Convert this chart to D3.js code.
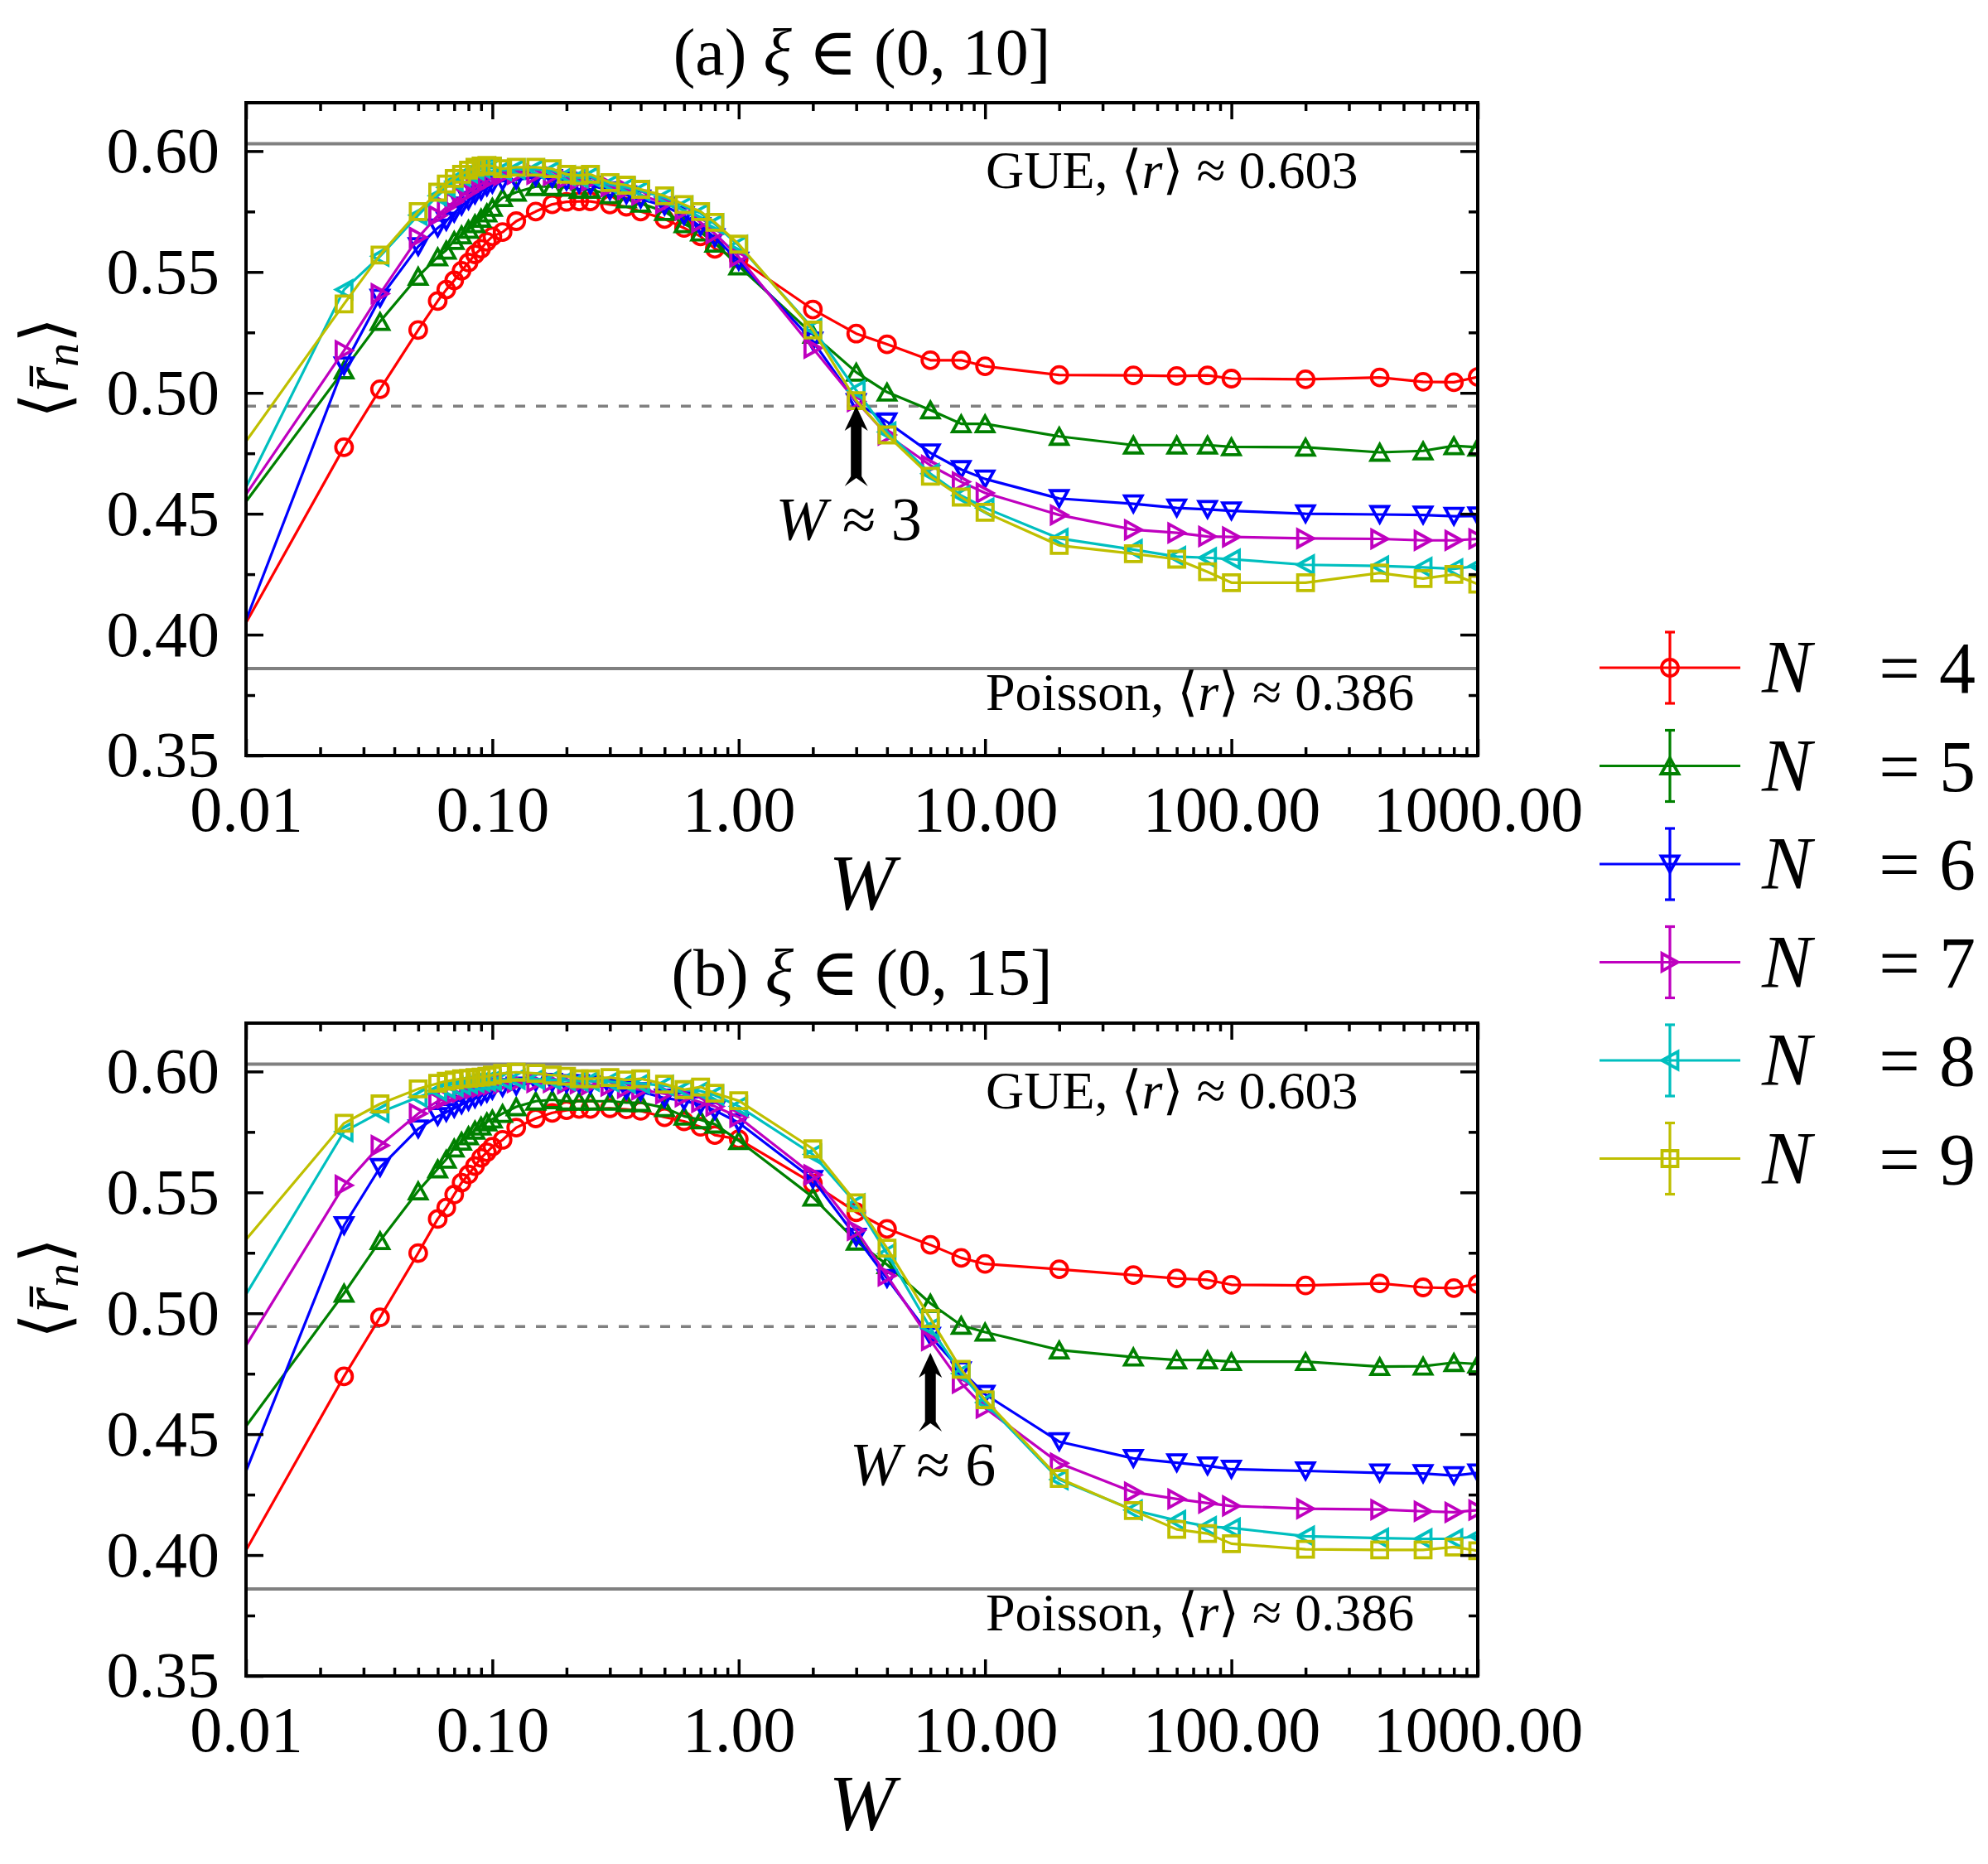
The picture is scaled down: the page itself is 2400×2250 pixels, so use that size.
<!DOCTYPE html>
<html>
<head>
<meta charset="utf-8">
<script src="https://cdn.jsdelivr.net/npm/d3@7"></script>
<style>
  body { margin: 0; background: #fff; }
  text { font-family: "Liberation Serif", "DejaVu Serif", serif; fill: #000; }
</style>
</head>
<body>
<div id="chart"></div>
<script>
// disorder strengths W (first point lies left of the axis, only its line segment shows)
const W_VALUES = [0.005, 0.025, 0.035, 0.05, 0.06, 0.065, 0.07, 0.075, 0.08, 0.085, 0.09, 0.095,
  0.1, 0.11, 0.125, 0.15, 0.175, 0.2, 0.225, 0.25, 0.3, 0.35, 0.4, 0.5, 0.6, 0.7, 0.8,
  1, 2, 3, 4, 6, 8, 10, 20, 40, 60, 80, 100, 200, 400, 600, 800, 1000];

const N_VALUES = [4, 5, 6, 7, 8, 9];

// panel (a): xi in (0,10]
const rA_N4 = [0.350, 0.4775, 0.5015, 0.526, 0.538, 0.5427, 0.5465, 0.5505, 0.5539, 0.5573, 0.5596, 0.5625,
  0.5647, 0.5665, 0.571, 0.575, 0.578, 0.579, 0.5792, 0.5792, 0.5779, 0.577, 0.575, 0.5719, 0.5682, 0.5647, 0.5596,
  0.5555, 0.5345, 0.5245, 0.5201, 0.5135, 0.5135, 0.511, 0.5074, 0.5072, 0.507, 0.5072, 0.5059, 0.5056, 0.5064, 0.5046, 0.5044, 0.5066];
const rA_N5 = [0.4138, 0.5095, 0.5295, 0.5482, 0.5562, 0.559, 0.563, 0.5653, 0.5676, 0.5699, 0.5722, 0.5744,
  0.5767, 0.5807, 0.583, 0.5853, 0.5853, 0.585, 0.5842, 0.5842, 0.5819, 0.5802, 0.5784, 0.575, 0.5699, 0.5665, 0.5619,
  0.5525, 0.5242, 0.5085, 0.5003, 0.4929, 0.4872, 0.4872, 0.482, 0.4784, 0.4784, 0.4784, 0.4777, 0.4775, 0.4754, 0.476, 0.4781, 0.4775];
const rA_N6 = [0.3264, 0.5112, 0.5392, 0.5605, 0.5682, 0.571, 0.5744, 0.5773, 0.5796, 0.5819, 0.5836, 0.5853,
  0.5864, 0.5876, 0.5881, 0.5893, 0.5887, 0.5876, 0.5864, 0.5859, 0.5836, 0.5819, 0.5802, 0.5773, 0.5733, 0.5688, 0.5642,
  0.5545, 0.5214, 0.496, 0.488, 0.4752, 0.4683, 0.4644, 0.4563, 0.4541, 0.4524, 0.4518, 0.4512, 0.450, 0.4497, 0.4495, 0.449, 0.4491];
const rA_N7 = [0.413, 0.5175, 0.541, 0.5643, 0.5733, 0.5767, 0.579, 0.5813, 0.583, 0.5847, 0.5864, 0.5876,
  0.5887, 0.5899, 0.5904, 0.5904, 0.5899, 0.5887, 0.5881, 0.5876, 0.5853, 0.5842, 0.5819, 0.5784, 0.5756, 0.5705, 0.5659,
  0.5562, 0.5185, 0.4965, 0.4826, 0.470, 0.4632, 0.4586, 0.4495, 0.4434, 0.4421, 0.4406, 0.4404, 0.4398, 0.4396, 0.439, 0.439, 0.4396];
const rA_N8 = [0.3992, 0.5427, 0.5565, 0.5735, 0.5815, 0.585, 0.5875, 0.5895, 0.591, 0.5922, 0.593, 0.5933,
  0.593, 0.592, 0.5925, 0.5925, 0.592, 0.5898, 0.589, 0.5895, 0.5862, 0.585, 0.5836, 0.5808, 0.5772, 0.5743, 0.5698,
  0.561, 0.5266, 0.501, 0.4838, 0.4666, 0.4575, 0.4524, 0.4398, 0.4352, 0.4323, 0.4318, 0.4312, 0.4289, 0.4284, 0.4278, 0.4272, 0.4284];
const rA_N9 = [0.4369, 0.5368, 0.557, 0.575, 0.583, 0.5864, 0.5887, 0.5904, 0.5921, 0.5933, 0.5938, 0.5941,
  0.5938, 0.5927, 0.5933, 0.5933, 0.5927, 0.5904, 0.5899, 0.5904, 0.587, 0.5859, 0.5842, 0.5815, 0.5779, 0.575, 0.5705,
  0.5615, 0.526, 0.4968, 0.4826, 0.4655, 0.4569, 0.4506, 0.4369, 0.4335, 0.4312, 0.426, 0.4215, 0.4215, 0.4255, 0.4232, 0.4249, 0.4209];

// panel (b): xi in (0,15]
const rB_N4 = [0.3476, 0.4739, 0.4983, 0.5249, 0.539, 0.5437, 0.5491, 0.554, 0.5574, 0.5609, 0.5643, 0.5666,
  0.5689, 0.5717, 0.5768, 0.5806, 0.5829, 0.584, 0.5845, 0.5845, 0.5848, 0.5843, 0.5837, 0.5811, 0.5794, 0.5771, 0.5737,
  0.572, 0.5537, 0.5418, 0.5349, 0.5283, 0.5229, 0.5204, 0.5182, 0.5158, 0.5144, 0.5138, 0.5118, 0.5115, 0.5124, 0.5107, 0.5104, 0.5121];
const rB_N5 = [0.4117, 0.5083, 0.530, 0.5506, 0.5597, 0.5637, 0.5683, 0.5711, 0.5734, 0.5757, 0.5774, 0.5791,
  0.5803, 0.5826, 0.5854, 0.5877, 0.5883, 0.5877, 0.5877, 0.5877, 0.5877, 0.5871, 0.5871, 0.585, 0.5815, 0.580, 0.5782,
  0.5714, 0.548, 0.5298, 0.5201, 0.5041, 0.495, 0.4922, 0.4848, 0.4819, 0.4807, 0.4807, 0.480, 0.480, 0.4779, 0.4781, 0.4796, 0.479];
const rB_N6 = [0.3578, 0.5363, 0.5603, 0.5763, 0.5814, 0.5831, 0.5848, 0.5863, 0.5877, 0.5888, 0.590, 0.5911,
  0.5923, 0.5934, 0.594, 0.5957, 0.5955, 0.595, 0.595, 0.5945, 0.5934, 0.5923, 0.5917, 0.589, 0.5879, 0.5862, 0.5839,
  0.5788, 0.5554, 0.5315, 0.5144, 0.4905, 0.4762, 0.4665, 0.4469, 0.440, 0.4382, 0.4369, 0.4355, 0.4348, 0.434, 0.4337, 0.4329, 0.434];
const rB_N7 = [0.4366, 0.5529, 0.5694, 0.5826, 0.5877, 0.589, 0.5905, 0.5915, 0.5925, 0.593, 0.5935, 0.594,
  0.5945, 0.595, 0.5955, 0.5955, 0.5955, 0.595, 0.595, 0.5945, 0.594, 0.5932, 0.5925, 0.5908, 0.5896, 0.5873, 0.5856,
  0.5811, 0.5572, 0.5343, 0.5155, 0.4888, 0.4711, 0.4608, 0.438, 0.426, 0.4232, 0.4215, 0.4203, 0.4192, 0.4188, 0.4181, 0.4177, 0.4186];
const rB_N8 = [0.4569, 0.5751, 0.5831, 0.5894, 0.592, 0.593, 0.5938, 0.5945, 0.595, 0.5955, 0.5958, 0.596,
  0.5963, 0.5966, 0.5968, 0.5968, 0.5966, 0.5963, 0.596, 0.596, 0.5958, 0.5952, 0.595, 0.5942, 0.5925, 0.5919, 0.5902,
  0.5856, 0.5657, 0.5452, 0.5247, 0.4939, 0.4751, 0.4631, 0.4312, 0.4186, 0.4143, 0.4118, 0.4112, 0.4078, 0.407, 0.4067, 0.4067, 0.4078];
const rB_N9 = [0.4941, 0.5786, 0.5866, 0.5928, 0.5951, 0.596, 0.5965, 0.597, 0.5972, 0.5975, 0.5977, 0.598,
  0.5985, 0.5992, 0.5997, 0.5992, 0.5985, 0.598, 0.597, 0.597, 0.5975, 0.5965, 0.597, 0.5948, 0.5925, 0.5936, 0.591,
  0.5879, 0.568, 0.5457, 0.5269, 0.4978, 0.4768, 0.4642, 0.4317, 0.4184, 0.4106, 0.4089, 0.4047, 0.4024, 0.4021, 0.4021, 0.4033, 0.4018];

const X_TICKS = [0.01, 0.1, 1, 10, 100, 1000];
const Y_TICKS = [0.35, 0.40, 0.45, 0.50, 0.55, 0.60];
const Y_MINOR = [0.375, 0.425, 0.475, 0.525, 0.575];
const GUE_R = 0.603, POISSON_R = 0.386;

const PANEL_LABELS = ["(a)", "(b)"];
const XI_MAX = [10, 15];
const ARROW_W = [3, 6];
const ARROW_TIP = [0.4946, 0.4836];
const ARROW_TAIL = [0.4614, 0.4511];

const COLORS = ["#ff0000", "#008000", "#0000ff", "#bf00bf", "#00bfbf", "#bfbf00"];
const MARKERS = [
  "M10,0A10,10 0 1,1 -10,0A10,10 0 1,1 10,0Z",        // circle
  "M0,-9.5L10.5,9.5L-10.5,9.5Z",                       // triangle up
  "M0,9.5L10.5,-9.5L-10.5,-9.5Z",                      // triangle down
  "M9.5,0L-9.5,-10.5L-9.5,10.5Z",                      // triangle right
  "M-9.5,0L9.5,-10.5L9.5,10.5Z",                       // triangle left
  "M-9.5,-9.5H9.5V9.5H-9.5Z"                           // square
];

const panels = [
  { series: [rA_N4, rA_N5, rA_N6, rA_N7, rA_N8, rA_N9] },
  { series: [rB_N4, rB_N5, rB_N6, rB_N7, rB_N8, rB_N9] }
];

const plotLeft = 297, plotW = 1487, plotH = 788;
const panelTop = [124, 1235];

const svg = d3.select("#chart").append("svg")
  .attr("width", 2400).attr("height", 2250);
svg.append("rect").attr("width", 2400).attr("height", 2250).attr("fill", "#fff");

const x = d3.scaleLog().domain([0.01, 1000]).range([0, plotW]);
const y = d3.scaleLinear().domain([0.35, 0.62]).range([plotH, 0]);
const fmt = d3.format(".2f");

const xMinor = [];
for (let e = -2; e < 3; e++) {
  for (let m = 2; m < 10; m++) xMinor.push(m * Math.pow(10, e));
}

const line = d3.line().x(d => x(d[0])).y(d => y(d[1]));

function styleAxis(sel, fontSize) {
  sel.select(".domain").remove();
  sel.selectAll("line").attr("stroke", "#000").attr("stroke-width", 3.5);
  sel.selectAll("text").attr("font-size", fontSize)
    .style("font-family", '"Liberation Serif", serif').attr("fill", "#000");
}

panels.forEach((p, i) => {
  const g = svg.append("g").attr("transform", `translate(${plotLeft},${panelTop[i]})`);

  g.append("clipPath").attr("id", "clip" + i)
    .append("rect").attr("width", plotW).attr("height", plotH);

  // reference lines
  const midR = (GUE_R + POISSON_R) / 2;
  [GUE_R, POISSON_R].forEach(v => {
    g.append("line").attr("x1", 0).attr("x2", plotW)
      .attr("y1", y(v)).attr("y2", y(v))
      .attr("stroke", "#808080").attr("stroke-width", 4);
  });
  g.append("line").attr("x1", 0).attr("x2", plotW)
    .attr("y1", y(midR)).attr("y2", y(midR))
    .attr("stroke", "#808080").attr("stroke-width", 3.5)
    .attr("stroke-dasharray", "12,13");

  // data
  const plot = g.append("g").attr("clip-path", `url(#clip${i})`);
  p.series.forEach((vals, k) => {
    const pts = W_VALUES.map((w, j) => [w, vals[j]]);
    const sg = plot.append("g");
    sg.append("path").datum(pts)
      .attr("d", line)
      .attr("fill", "none")
      .attr("stroke", COLORS[k])
      .attr("stroke-width", 3.2)
      .attr("stroke-linejoin", "round");
    sg.selectAll(".mk")
      .data(pts)
      .enter()
      .append("path")
      .attr("class", "mk")
      .attr("transform", d => `translate(${x(d[0])},${y(d[1])})`)
      .attr("d", MARKERS[k])
      .attr("fill", "none")
      .attr("stroke", COLORS[k])
      .attr("stroke-width", 3.8);
  });

  // GUE / Poisson labels
  const gueText = g.append("text").attr("x", 893).attr("y", 103).attr("font-size", 64);
  gueText.append("tspan").text("GUE, \u27E8");
  gueText.append("tspan").attr("font-style", "italic").text("r");
  gueText.append("tspan").text("\u27E9 \u2248 0.603");

  const poiText = g.append("text").attr("x", 893).attr("y", 733).attr("font-size", 64);
  poiText.append("tspan").text("Poisson, \u27E8");
  poiText.append("tspan").attr("font-style", "italic").text("r");
  poiText.append("tspan").text("\u27E9 \u2248 0.386");

  // arrow annotation
  const ax = x(ARROW_W[i]);
  const tipY = y(ARROW_TIP[i]), tailY = y(ARROW_TAIL[i]);
  const L = tailY - tipY;
  g.append("path")
    .attr("transform", `translate(${ax},${tipY})`)
    .attr("d", `M0,0L14,30L6.5,25L6.5,${L - 12}L14,${L}L0,${L - 10}L-14,${L}L-6.5,${L - 12}L-6.5,25L-14,30Z`)
    .attr("fill", "#000");

  const at = g.append("text")
    .attr("x", ax - 9).attr("y", tailY + 65)
    .attr("text-anchor", "middle").attr("font-size", 74);
  at.append("tspan").attr("font-style", "italic").text("W");
  at.append("tspan").text(" \u2248 " + ARROW_W[i]);

  // axes (ticks inward on all sides)
  const bottom = g.append("g").attr("transform", `translate(0,${plotH})`)
    .call(d3.axisBottom(x).tickValues(X_TICKS).tickFormat(fmt)
      .tickSizeInner(-20).tickSizeOuter(0).tickPadding(36));
  styleAxis(bottom, 78);
  const bottomMinor = g.append("g").attr("transform", `translate(0,${plotH})`)
    .call(d3.axisBottom(x).tickValues(xMinor).tickFormat("").tickSizeInner(-10).tickSizeOuter(0));
  styleAxis(bottomMinor, 0);
  const top = g.append("g")
    .call(d3.axisTop(x).tickValues(X_TICKS).tickFormat("").tickSizeInner(-20).tickSizeOuter(0));
  styleAxis(top, 0);
  const topMinor = g.append("g")
    .call(d3.axisTop(x).tickValues(xMinor).tickFormat("").tickSizeInner(-10).tickSizeOuter(0));
  styleAxis(topMinor, 0);

  const left = g.append("g")
    .call(d3.axisLeft(y).tickValues(Y_TICKS).tickFormat(fmt)
      .tickSizeInner(-21).tickSizeOuter(0).tickPadding(32));
  styleAxis(left, 78);
  const leftMinor = g.append("g")
    .call(d3.axisLeft(y).tickValues(Y_MINOR).tickFormat("").tickSizeInner(-11).tickSizeOuter(0));
  styleAxis(leftMinor, 0);
  const right = g.append("g").attr("transform", `translate(${plotW},0)`)
    .call(d3.axisRight(y).tickValues(Y_TICKS).tickFormat("").tickSizeInner(-21).tickSizeOuter(0));
  styleAxis(right, 0);
  const rightMinor = g.append("g").attr("transform", `translate(${plotW},0)`)
    .call(d3.axisRight(y).tickValues(Y_MINOR).tickFormat("").tickSizeInner(-11).tickSizeOuter(0));
  styleAxis(rightMinor, 0);

  // frame
  g.append("rect").attr("width", plotW).attr("height", plotH)
    .attr("fill", "none").attr("stroke", "#000").attr("stroke-width", 4);

  // title
  const title = g.append("text")
    .attr("x", plotW / 2).attr("y", -34)
    .attr("text-anchor", "middle").attr("font-size", 80);
  title.append("tspan").text(PANEL_LABELS[i] + " ");
  title.append("tspan").attr("font-style", "italic").text("\u03BE");
  title.append("tspan").text(" \u2208 (0, " + XI_MAX[i] + "]");

  // x label
  g.append("text")
    .attr("x", plotW / 2).attr("y", plotH + 186)
    .attr("text-anchor", "middle").attr("font-size", 96)
    .attr("font-style", "italic").text("W");

  // y label
  const yl = g.append("text")
    .attr("transform", `translate(${82 - plotLeft},${320}) rotate(-90)`)
    .attr("text-anchor", "middle").attr("font-size", 80);
  yl.append("tspan").text("\u27E8");
  yl.append("tspan").attr("font-style", "italic").text("r\u0304");
  yl.append("tspan").attr("font-style", "italic").attr("font-size", 58).attr("dy", 12).text("n");
  yl.append("tspan").attr("dy", -12).text("\u27E9");
});

// legend
const legend = svg.append("g").attr("transform", "translate(1931,806)");
N_VALUES.forEach((n, k) => {
  const row = legend.append("g").attr("transform", `translate(0,${k * 118.5})`);
  row.append("line").attr("x1", 0).attr("x2", 170)
    .attr("stroke", COLORS[k]).attr("stroke-width", 3.2);
  row.append("line").attr("x1", 85).attr("x2", 85).attr("y1", -43).attr("y2", 43)
    .attr("stroke", COLORS[k]).attr("stroke-width", 3.2);
  [-43, 43].forEach(cy => {
    row.append("line").attr("x1", 79).attr("x2", 91).attr("y1", cy).attr("y2", cy)
      .attr("stroke", COLORS[k]).attr("stroke-width", 3.2);
  });
  row.append("path").attr("transform", "translate(85,0)")
    .attr("d", MARKERS[k]).attr("fill", "none")
    .attr("stroke", COLORS[k]).attr("stroke-width", 3.8);
  row.append("text").attr("x", 196).attr("y", 30).attr("font-size", 90)
    .attr("font-style", "italic").text("N");
  row.append("text").attr("x", 362).attr("y", 30).attr("font-size", 88)
    .attr("text-anchor", "middle").text("=");
  row.append("text").attr("x", 432).attr("y", 30).attr("font-size", 88)
    .attr("text-anchor", "middle").text(n);
});
</script>
</body>
</html>
